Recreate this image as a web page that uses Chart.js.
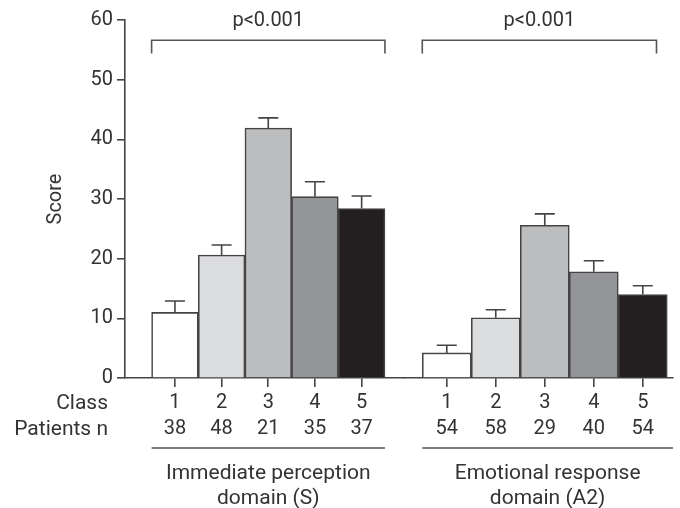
<!DOCTYPE html>
<html>
<head>
<meta charset="utf-8">
<script src="https://cdn.jsdelivr.net/npm/chart.js@4.4.1/dist/chart.umd.min.js"></script>
<style>
  html, body { margin: 0; padding: 0; background: #ffffff; }
  #wrap { width: 680px; height: 508px; position: relative; }
</style>
</head>
<body>
<div id="wrap"><canvas id="c" width="680" height="508"></canvas></div>
<script>
// ---- data ----
const classes = [1, 2, 3, 4, 5];
const classLabels = ['1', '2', '3', '4', '5'];
const patientsS = ['38', '48', '21', '35', '37'];
const patientsA2 = ['54', '58', '29', '40', '54'];
const scoreS = [11.0, 20.6, 41.9, 30.4, 28.4];
const errS = [1.9, 1.7, 1.7, 2.5, 2.1];
const scoreA2 = [4.2, 10.1, 25.6, 17.8, 14.0];
const errA2 = [1.3, 1.35, 1.9, 1.85, 1.45];
const groupTitles = [['Immediate perception', 'domain (S)'], ['Emotional response', 'domain (A2)']];
const rowLabels = ['Class', 'Patients n'];
const pText = ['p<0.001', 'p<0.001'];
const bracketS = [0.5, 5.5];
const bracketA2 = [0.5, 5.28];
const bracketLevel = 56.6;
const bracketDrop = 54.4;
const yTicks = [0, 10, 20, 30, 40, 50, 60];

const fills = ['#ffffff', '#dcdddf', '#bcbdbf', '#939598', '#231f20'];
const textColor = '#333333';
const lineColor = '#444444';
const FONT = 'Roboto, "Liberation Sans", sans-serif';

const overlay = {
  id: 'overlay',
  afterDatasetsDraw(chart) {
    const ctx = chart.ctx;
    const y = chart.scales.y;
    const groups = [
      { xs: chart.scales.x, score: scoreS, err: errS },
      { xs: chart.scales.x2, score: scoreA2, err: errA2 }
    ];
    ctx.save();
    ctx.strokeStyle = lineColor;
    ctx.lineWidth = 1.6;
    groups.forEach(g => {
      classes.forEach((c, i) => {
        const cx = g.xs.getPixelForValue(c);
        const top = y.getPixelForValue(g.score[i]);
        const cap = y.getPixelForValue(g.score[i] + g.err[i]);
        ctx.beginPath();
        ctx.moveTo(cx, top);
        ctx.lineTo(cx, cap);
        ctx.moveTo(cx - 10, cap);
        ctx.lineTo(cx + 10, cap);
        ctx.stroke();
      });
    });
    ctx.restore();
  },
  afterDraw(chart) {
    const ctx = chart.ctx;
    const y = chart.scales.y;
    const x1 = chart.scales.x;
    const x2 = chart.scales.x2;
    const groups = [
      { xs: x1, br: bracketS, lineL: x1.getPixelForValue(0.5), lineR: x1.getPixelForValue(5.5) },
      { xs: x2, br: bracketA2, lineL: x2.getPixelForValue(0.5), lineR: x2.right }
    ];
    ctx.save();
    ctx.strokeStyle = '#555555';
    ctx.lineWidth = 1.6;
    ctx.fillStyle = textColor;
    ctx.textAlign = 'center';
    ctx.textBaseline = 'middle';
    const yb = y.getPixelForValue(bracketLevel);
    const yd = y.getPixelForValue(bracketDrop);
    groups.forEach((g, gi) => {
      const l = g.xs.getPixelForValue(g.br[0]);
      const r = g.xs.getPixelForValue(g.br[1]);
      ctx.beginPath();
      ctx.moveTo(l, yd);
      ctx.lineTo(l, yb);
      ctx.lineTo(r, yb);
      ctx.lineTo(r, yd);
      ctx.stroke();
      ctx.font = '20px ' + FONT;
      ctx.fillText(pText[gi], (l + r) / 2, yb - 19);
      // group underline + title
      const base = x1.top;
      ctx.beginPath();
      ctx.moveTo(g.lineL, base + 70);
      ctx.lineTo(g.lineR, base + 70);
      ctx.stroke();
      const mid = (g.lineL + g.lineR) / 2;
      ctx.font = '21px ' + FONT;
      ctx.fillText(groupTitles[gi][0], mid, base + 96);
      ctx.fillText(groupTitles[gi][1], mid, base + 121);
    });
    ctx.font = '21px ' + FONT;
    ctx.textAlign = 'right';
    ctx.fillText(rowLabels[0], 108, x1.top + 26);
    ctx.fillText(rowLabels[1], 108, x1.top + 52);
    ctx.restore();
  }
};

function xAxis(weight, min, max, nLabels) {
  return {
    type: 'linear',
    position: 'bottom',
    stack: 'grp',
    stackWeight: weight,
    offset: false,
    min: min,
    max: max,
    afterBuildTicks: (s) => { s.ticks = classes.map(v => ({ value: v })); },
    afterFit: (s) => { s.height = 130; },
    grid: { offset: false, drawOnChartArea: false, drawTicks: true, tickLength: 9, color: lineColor, lineWidth: 1.6 },
    border: { display: true, color: lineColor, width: 1.6 },
    ticks: {
      autoSkip: false,
      maxRotation: 0,
      padding: 3,
      color: textColor,
      font: { family: FONT, size: 20, lineHeight: 1.3 },
      callback: (v) => {
        const i = classes.indexOf(v);
        return i >= 0 ? [classLabels[i], nLabels[i]] : '';
      }
    }
  };
}

const barBase = {
  type: 'bar',
  grouped: false,
  backgroundColor: fills,
  borderColor: lineColor,
  borderWidth: 1.6,
  borderSkipped: 'bottom',
  barPercentage: 1,
  categoryPercentage: 1
};

new Chart(document.getElementById('c'), {
  type: 'bar',
  data: {
    datasets: [
      Object.assign({}, barBase, {
        label: 'Immediate perception domain (S)',
        xAxisID: 'x',
        data: classes.map((c, i) => ({ x: c, y: scoreS[i] }))
      }),
      Object.assign({}, barBase, {
        label: 'Emotional response domain (A2)',
        xAxisID: 'x2',
        data: classes.map((c, i) => ({ x: c, y: scoreA2[i] }))
      })
    ]
  },
  options: {
    responsive: false,
    animation: false,
    layout: { padding: { left: 0, right: 7, top: 20, bottom: 0 } },
    plugins: { legend: { display: false }, tooltip: { enabled: false } },
    scales: {
      x: xAxis(279, -0.07, 5.908, patientsS),
      x2: xAxis(269, 0.127, 5.617, patientsA2),
      y: {
        min: 0,
        max: 60,
        afterBuildTicks: (s) => { s.ticks = yTicks.map(v => ({ value: v })); },
        afterFit: (s) => { s.width = 125; },
        grid: { drawOnChartArea: false, drawTicks: true, tickLength: 8, color: lineColor, lineWidth: 1.6 },
        border: { display: true, color: lineColor, width: 1.6 },
        ticks: { color: textColor, padding: 4, font: { family: FONT, size: 20 } },
        title: { display: true, text: 'Score', color: textColor, font: { family: FONT, size: 20 }, padding: { top: 44, bottom: 0 } }
      }
    }
  },
  plugins: [overlay]
});
</script>
</body>
</html>
